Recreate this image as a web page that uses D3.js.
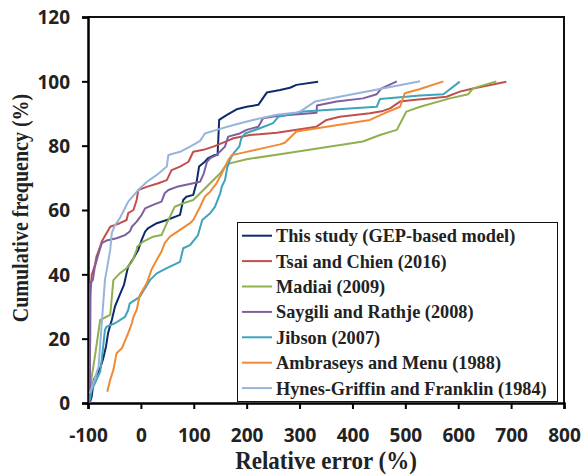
<!DOCTYPE html>
<html>
<head>
<meta charset="utf-8">
<script src="https://cdn.jsdelivr.net/npm/d3@7"></script>
<style>
  body { margin: 0; background: #fff; }
  svg { display: block; }
</style>
</head>
<body>
<div id="chart"></div>
<script>
// series names + colours (legend order)
const names = [
  "This study (GEP-based model)",
  "Tsai and Chien (2016)",
  "Madiai (2009)",
  "Saygili and Rathje (2008)",
  "Jibson (2007)",
  "Ambraseys and Menu (1988)",
  "Hynes-Griffin and Franklin (1984)"
]
const colors = ["#0d2a6b", "#c0504d", "#8fb04f", "#7d5fa0", "#3ea3bd", "#f08a35", "#98b4da"]

// [relative error %, cumulative frequency %]
const thisStudy = [[-96,0.4],[-93,2],[-89,7.2],[-77,10.9],[-72,13.4],[-66,17.5],[-62,21.8],[-55,25.8],[-49,30],[-40,33.6],[-32,36.7],[-27,40.4],[-24,42.4],[-14,45],[-5,47.6],[1.5,50.7],[8,53.3],[14,54.4],[30,55.9],[49,56.9],[74,58.5],[80,63.1],[86,64.1],[99,64.7],[105,68.3],[110,73.5],[121,75],[127,76.1],[140,77.1],[145,77.1],[148,88],[162,89.5],[181,91.3],[200,92.1],[222,92.7],[238,96.5],[263,97.3],[282,98],[294,98.9],[335,99.9]]
const tsai = [[-96,19.1],[-95.5,32],[-95,34.6],[-93,39.8],[-87,42.9],[-84,45.5],[-77,48.6],[-74,50.2],[-65,52.8],[-58,54.8],[-40,55.9],[-27,56.9],[-24,59],[-14,60],[-8,63.1],[-5,66.2],[11,67.2],[33,68.3],[49,69.3],[58,72.4],[74,73.5],[90,75],[99,78.1],[118,78.7],[137,79.7],[159,81.2],[175,82.3],[206,83.3],[257,84],[332,85.9],[351,88],[376,89],[433,90.1],[458,90.8],[471,91.6],[490,93.7],[515,94.2],[578,95.2],[603,96.8],[628,97.8],[691,99.9]]
const madiai = [[-96,3],[-93,8.2],[-87,14.4],[-77,25.8],[-58,27.4],[-52,38.2],[-40,40.3],[-27,41.9],[-17,43.9],[-8,47.6],[-7,48.6],[4.5,50.2],[23,51.7],[39,52.2],[49,55.9],[52,56.9],[64,61],[80,62.1],[99,63.1],[112,65.2],[131,68.3],[150,71.4],[159,73.5],[168,74.5],[200,75.8],[263,77.3],[420,81.3],[452,83.3],[484,84.9],[502,90.6],[528,92.1],[584,94.7],[619,96],[628,97.8],[672,100]]
const saygili = [[-96.5,0],[-96,20],[-96,37.2],[-91,38.2],[-87,42.4],[-80,46.5],[-74,49.7],[-65,50.5],[-46,51.2],[-30,52.2],[-21,53.3],[-17,54.8],[-8,56.4],[1.5,58.5],[8,60.5],[23,61.6],[39,62.6],[45,65.2],[52,66.2],[68,67.2],[99,68.3],[112,68.8],[119,71.4],[125,75],[131,76.1],[143,77.1],[159,79.7],[165,82.8],[187,83.8],[200,84.9],[222,85.9],[231,88.5],[257,89.2],[332,90.2],[333,92.5],[370,93.7],[420,94.7],[446,96],[455,97.8],[484,100]]
const jibson = [[-96.5,1],[-93,4],[-77,9.7],[-74,13.4],[-68,22.7],[-65,23.7],[-49,24.8],[-30,26.8],[-24,28.9],[-21,31],[-2,33],[17,38.2],[30,40.3],[49,41.9],[74,43.9],[80,48.1],[93,49.1],[108,52.2],[116,56.9],[131,59],[140,61],[150,65.2],[153,67.3],[159,69.3],[163,73],[168,75.5],[175,77.6],[186,79.7],[190,82.3],[197,83.8],[225,85.4],[250,87],[260,89],[307,90.6],[446,92.1],[452,94.5],[528,95.6],[572,96],[603,99.9]]
const ambraseys = [[-63.5,3.5],[-58,7.2],[-52,10.3],[-46,15.5],[-36,17],[-24,21.7],[-17,24.8],[-14,26.8],[-8,28.9],[-2,33.6],[11,37.2],[20,41.4],[30,44.5],[39,47.1],[45,49.7],[55,51.7],[74,53.8],[93,55.9],[99,56.9],[112,61],[121,64.2],[131,65.7],[143,68.3],[153,71.4],[165,75.5],[172,77.1],[187,77.6],[244,79.7],[263,80.4],[272,80.9],[294,84.4],[433,88],[461,90.1],[490,92.1],[499,96.3],[528,97.6],[572,100]]
const hynes = [[-96.5,3],[-90,6.1],[-80,11.3],[-74,24.8],[-68,38.2],[-63.5,42.4],[-58,47.6],[-55,52.8],[-49,55.3],[-40,57.4],[-30,60.6],[-24,62.6],[-5,66.2],[11,68.7],[30,70.9],[49,73.5],[52,77.1],[74,78.1],[93,79.7],[112,81.5],[121,83.8],[143,84.9],[175,86.4],[212,88],[257,89.6],[294,90.3],[301,90.6],[329,93.7],[528,100]]
const series = [thisStudy, tsai, madiai, saygili, jibson, ambraseys, hynes]

const xTicks = [-100, 0, 100, 200, 300, 400, 500, 600, 700, 800]
const yTicks = [0, 20, 40, 60, 80, 100, 120]

const W = 583, H = 475
const M = { TOP: 17, RIGHT: 18, BOTTOM: 72, LEFT: 88 }

const svg = d3.select("#chart").append("svg")
  .attr("width", W)
  .attr("height", H)

const x = d3.scaleLinear().domain([-100, 800]).range([M.LEFT, W - M.RIGHT - 1])
const y = d3.scaleLinear().domain([0, 120]).range([H - M.BOTTOM, M.TOP])

// frame (top + right)
svg.append("path")
  .attr("d", `M${x(-100)},${y(120)}H${x(800)}V${y(0)}`)
  .attr("fill", "none")
  .attr("stroke", "#111")
  .attr("stroke-width", 2)

const tickFont = "'Open Sans', sans-serif"
const serif = "'Liberation Serif', 'Times New Roman', serif"

const xAxis = svg.append("g")
  .attr("transform", `translate(0,${y(0)})`)
  .call(d3.axisBottom(x).tickValues(xTicks).tickSize(6).tickFormat(d => String(d)))
xAxis.select(".domain").attr("stroke", "#000").attr("stroke-width", 2.5)
xAxis.selectAll(".tick line").attr("stroke", "#000").attr("stroke-width", 2)
xAxis.selectAll("text")
  .attr("y", 38.5)
  .attr("dy", null)
  .attr("font-family", tickFont)
  .attr("font-weight", "bold")
  .attr("font-size", 19)
  .attr("fill", "#222")

const yAxis = svg.append("g")
  .attr("transform", `translate(${x(-100)},0)`)
  .call(d3.axisLeft(y).tickValues(yTicks).tickSize(6))
yAxis.select(".domain").attr("stroke", "#000").attr("stroke-width", 2.5)
yAxis.selectAll(".tick line").attr("stroke", "#000").attr("stroke-width", 2)
yAxis.selectAll("text")
  .attr("x", -18)
  .attr("dy", "0.36em")
  .attr("font-family", tickFont)
  .attr("font-weight", "bold")
  .attr("font-size", 19)
  .attr("fill", "#222")

// axis titles (original glyphs look a little stretched vertically)
svg.append("text")
  .attr("transform", `translate(${(x(-100) + x(800)) / 2},469) scale(1,1.05)`)
  .attr("text-anchor", "middle")
  .attr("font-family", serif)
  .attr("font-weight", "bold")
  .attr("font-size", 23)
  .attr("fill", "#222")
  .text("Relative error (%)")

svg.append("text")
  .attr("transform", `translate(28,${(y(0) + y(120)) / 2 - 2}) rotate(-90) scale(1,1.15)`)
  .attr("text-anchor", "middle")
  .attr("font-family", serif)
  .attr("font-weight", "bold")
  .attr("font-size", 20)
  .attr("fill", "#222")
  .text("Cumulative frequency (%)")

// lines
const line = d3.line()
  .x(d => x(d[0]))
  .y(d => y(d[1]))

svg.append("g").selectAll("path")
  .data(series)
  .enter()
  .append("path")
    .attr("d", line)
    .attr("fill", "none")
    .attr("stroke", (d, i) => colors[i])
    .attr("stroke-width", 2)
    .attr("stroke-linejoin", "round")

// legend
const legend = svg.append("g")
legend.append("rect")
  .attr("x", 237.5)
  .attr("y", 222.5)
  .attr("width", 320)
  .attr("height", 179)
  .attr("fill", "#fff")
  .attr("stroke", "#111")
  .attr("stroke-width", 1)

const items = legend.selectAll(".item")
  .data(names)
  .enter()
  .append("g")
    .attr("transform", (d, i) => `translate(242,${235.7 + i * 25.4})`)

items.append("line")
  .attr("x1", 0)
  .attr("x2", 30)
  .attr("stroke", (d, i) => colors[i])
  .attr("stroke-width", 2)

items.append("text")
  .attr("x", 34)
  .attr("dy", "0.35em")
  .attr("font-family", serif)
  .attr("font-weight", "bold")
  .attr("font-size", 18.3)
  .attr("fill", "#222")
  .text(d => d)
</script>
</body>
</html>
